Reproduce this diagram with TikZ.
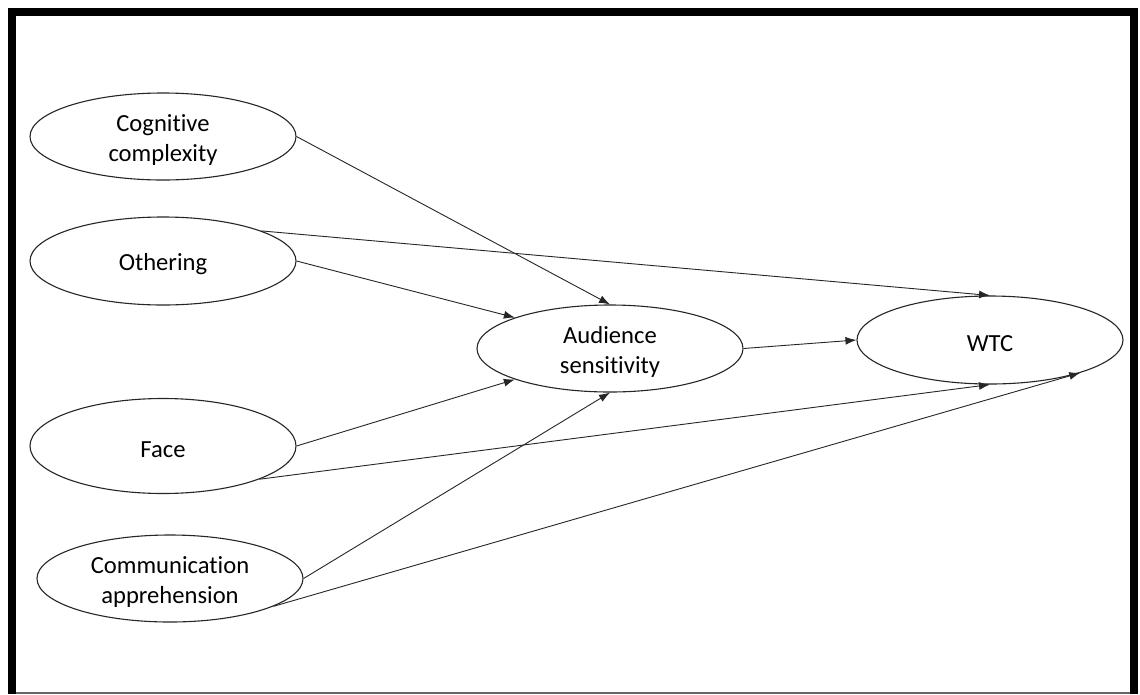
\documentclass[tikz,border=0pt]{standalone}
\usepackage{fontspec}
\setmainfont{Carlito}[Ligatures={NoCommon}]
\usetikzlibrary{shapes.geometric,arrows.meta}
\begin{document}
\begin{tikzpicture}[x=1pt,y=-1pt,
  latent/.style={ellipse,draw=black!85,line width=1.1pt,minimum width=266pt,minimum height=87pt,inner sep=0pt,
    label={[align=center,font=\fontsize{24.6}{30}\selectfont,yshift=-3.5pt]center:#1}},
  path/.style={draw=black!85,line width=0.9pt,-{Latex[length=11pt,width=8pt]}}]
\useasboundingbox (0,0) rectangle (1140,694);
\fill[white] (0,0) rectangle (1140,694);
% frame
\fill[black] (8,8) rectangle (16,694);
\fill[black] (8,8) rectangle (1138,16);
\fill[black] (1130,8) rectangle (1138,694);
\draw[black!60,line width=1.2pt] (16,693) -- (1130,693);
% nodes
\node[latent={Cognitive\\complexity}] (cog) at (163,136.5) {};
\node[latent={Othering},minimum height=88pt] (oth) at (163,261) {};
\node[latent={Face},minimum height=95pt] (face) at (163,446) {};
\node[latent={Communication\\apprehension}] (comm) at (170,578.5) {};
\node[latent={Audience\\sensitivity}] (aud) at (610,348.5) {};
\node[latent={WTC},minimum height=88pt] (wtc) at (990,340) {};
% paths
\draw[path] (cog.east) -- (aud.north);
\draw[path] (oth.17.5) -- (wtc.north);
\draw[path] (oth.east) -- (aud.162);
\draw[path] (face.east) -- (aud.198);
\draw[path] (face.-19) -- (wtc.south);
\draw[path] (comm.east) -- (aud.south);
\draw[path] (comm.-15) -- (wtc.-20);
\draw[path] (aud.east) -- (wtc.west);
\end{tikzpicture}
\end{document}
